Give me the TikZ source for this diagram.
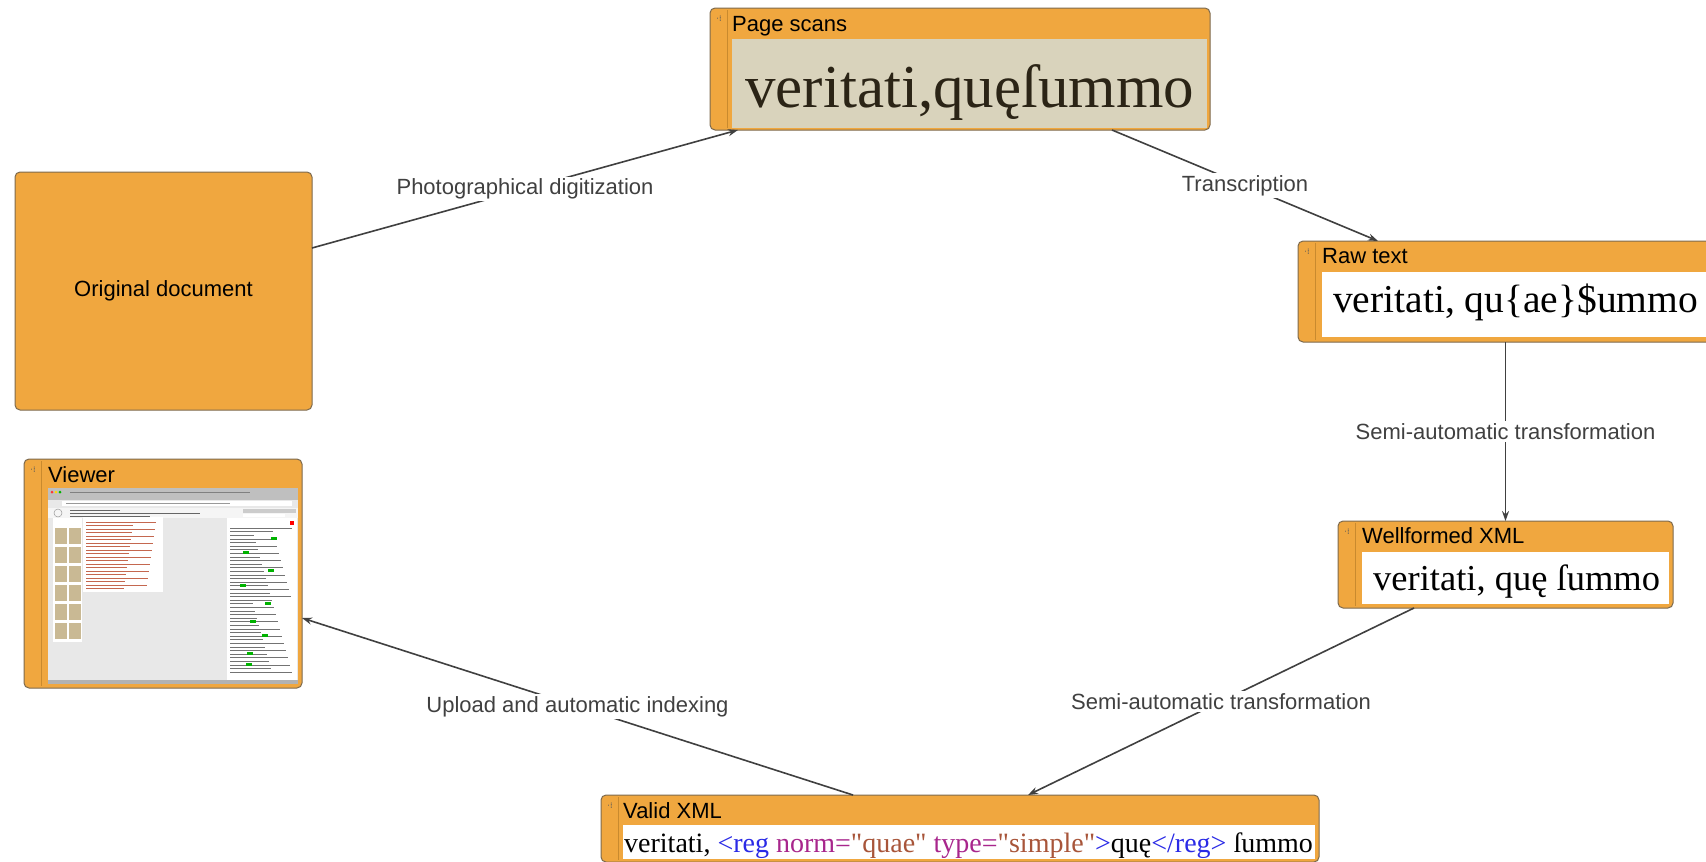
\documentclass[tikz,border=0pt]{standalone}
\usepackage{fontspec}
\setmainfont{Liberation Sans}
\newfontfamily\printfont{Liberation Serif}
\newfontfamily\gripfont{DejaVu Sans}
\usetikzlibrary{arrows.meta,calc}
\definecolor{boxorange}{HTML}{F0A73F}
\definecolor{boxedge}{HTML}{7D6A4E}
\definecolor{stripe}{HTML}{C98A2E}
\definecolor{wire}{HTML}{404040}
\definecolor{scanpaper}{HTML}{D9D3BC}
\definecolor{scanink}{HTML}{2B2416}
\definecolor{tagblue}{HTML}{2A2AE6}
\definecolor{attrpurple}{HTML}{A8268C}
\definecolor{valbrown}{HTML}{A8553A}
\definecolor{thumb}{HTML}{C9B994}
\definecolor{shotgray}{HTML}{E8E8E8}
\definecolor{shotred}{HTML}{C4674F}
\tikzset{
  stage/.style={draw=boxedge, line width=1pt, fill=boxorange, rounded corners=5pt,
    anchor=north west, inner sep=0pt, outer sep=0pt, font=\fontsize{22}{26}\selectfont},
  pane/.style={fill=white, draw=none, anchor=north west, inner sep=0pt, outer sep=0pt},
  heading/.style={anchor=base west, inner sep=0pt, font=\fontsize{22}{26}\selectfont},
  print/.style={anchor=base west, inner sep=0pt},
  grip/.style={inner sep=0pt, text=black!65, font=\gripfont\fontsize{8}{8}\selectfont},
  flow/.style={->, line width=1.6pt, draw=wire, >={Stealth[length=10pt,width=7pt]}},
  flowlabel/.style={midway, fill=white, inner sep=2pt, text=wire, font=\fontsize{22}{26}\selectfont},
}
\begin{document}
\begin{tikzpicture}[x=1pt, y=-1pt]
\path[use as bounding box, fill=white] (0,0) rectangle (1706,862);

% stages
\node [stage, minimum width=297pt, minimum height=238pt] (orig) at (15,172) {Original document};
\node [stage, minimum width=500pt, minimum height=122pt] (scans) at (710,8) {};
\node [stage, minimum width=440pt, minimum height=101pt] (raw) at (1298,241) {};
\node [stage, minimum width=335pt, minimum height=87pt] (wf) at (1338,521) {};
\node [stage, minimum width=718pt, minimum height=67pt] (valid) at (601,795) {};
\node [stage, minimum width=278pt, minimum height=229pt] (viewer) at (24,459) {};

\foreach \b in {scans,raw,wf,valid,viewer} {
  \draw [stripe, line width=1pt] ([xshift=17pt,yshift=-2pt]\b.north west) -- ([xshift=17pt,yshift=2pt]\b.south west);
  \node [grip] at ([xshift=9pt,yshift=-11pt]\b.north west) {·⁞};
}

% panes
\node [pane, fill=scanpaper, minimum width=475pt, minimum height=89pt] (scanspane) at (732,39) {};
\node [pane, minimum width=420pt, minimum height=65pt] (rawpane) at (1322,272) {};
\node [pane, minimum width=307pt, minimum height=52pt] (wfpane) at (1362,552) {};
\node [pane, minimum width=692pt, minimum height=34pt] (validpane) at (623,825) {};
\node [pane, fill=shotgray, minimum width=250pt, minimum height=196pt] (shot) at (48,488) {};

% titles
\node [heading] (scanstitle) at (732,31) {Page scans};
\node [heading] (rawtitle) at (1322,263) {Raw text};
\node [heading] (wftitle) at (1362,543) {Wellformed XML};
\node [heading] (validtitle) at (623,818) {Valid XML};
\node [heading] (viewertitle) at (48,482) {Viewer};

% texts
\node [print, text=scanink, font=\printfont\fontsize{61}{61}\selectfont] (scanstext) at (745,107) {veritati,quęſummo};
\node [print, font=\printfont\fontsize{39.5}{40}\selectfont] (rawtext) at (1333,312) {veritati, qu\{ae\}\$ummo};
\node [print, font=\printfont\fontsize{36.5}{37}\selectfont] (wftext) at (1373,590) {veritati, quę ſummo};
\node [print, font=\printfont\fontsize{28}{28}\selectfont] (validtext) at (624,852)
  {veritati, \textcolor{tagblue}{<reg} \textcolor{attrpurple}{norm=}\textcolor{valbrown}{"quae"}
   \textcolor{attrpurple}{type=}\textcolor{valbrown}{"simple"}\textcolor{tagblue}{>}quę\textcolor{tagblue}{</reg>} ſummo};

% viewer screenshot
\fill [black!25] (48,488) rectangle (298,500);
\fill [red!80] (52,492) circle (1.5);
\fill [yellow!80!orange] (56,492) circle (1.5);
\fill [green!70!black] (60,492) circle (1.5);
\draw [black!50, line width=0.6pt] (70,492) -- (250,492);
\fill [white] (62,501) rectangle (292,506);
\draw [black!40, line width=0.5pt] (66,503.5) -- (230,503.5);
\fill [black!4] (48,508) rectangle (298,518);
\draw [black!40, line width=0.5pt] (58,513) circle (4);
\draw [black!60, line width=0.6pt] (70,510) -- (120,510) (70,513) -- (200,513) (70,516) -- (150,516);
\fill [black!20] (243,509) rectangle (296,513);
\fill [white] (243,514) rectangle (285,517);
\fill [white] (53,518) rectangle (82,642);
\foreach \r in {0,...,5}
  \foreach \c in {0,1}
    \fill [thumb] ({55+\c*14},{528+\r*19}) rectangle +(12,16);
\fill [white] (83,517) rectangle (163,592);
\foreach \i in {0,...,19}
  \draw [shotred, line width=0.6pt] (86,{522+\i*3.5}) -- +({70-mod(\i*23,45)},0);
\fill [white] (227,518) rectangle (297,680);
\fill [red] (290,521) rectangle +(4,4);
\foreach \i in {0,...,40}
  \draw [black!55, line width=0.5pt] (230,{528+\i*3.6}) -- +({62-mod(\i*19,40)},0);
\foreach \i in {3,7,12,16,21,26,30,35,38}
  \fill [green!70!black] ({232+mod(\i*13,40)},{526+\i*3.6}) rectangle +(6,3);
\fill [black!30] (48,680) rectangle (298,684);

% flows
\draw [flow] ([yshift=-76pt]orig.north east) -- node [flowlabel] {Photographical digitization} ([xshift=28pt]scans.south west);
\draw [flow] ([xshift=402pt]scans.south west) -- node [flowlabel] {Transcription} ([xshift=80pt]raw.north west);
\draw [flow] (wf.north |- raw.south) -- node [flowlabel] {Semi-automatic transformation} (wf.north);
\draw [flow] ([xshift=76pt]wf.south west) -- node [flowlabel] {Semi-automatic transformation} ([xshift=427pt]valid.north west);
\draw [flow] ([xshift=252pt]valid.north west) -- node [flowlabel] {Upload and automatic indexing} ([yshift=70pt]viewer.south east);
\end{tikzpicture}
\end{document}
